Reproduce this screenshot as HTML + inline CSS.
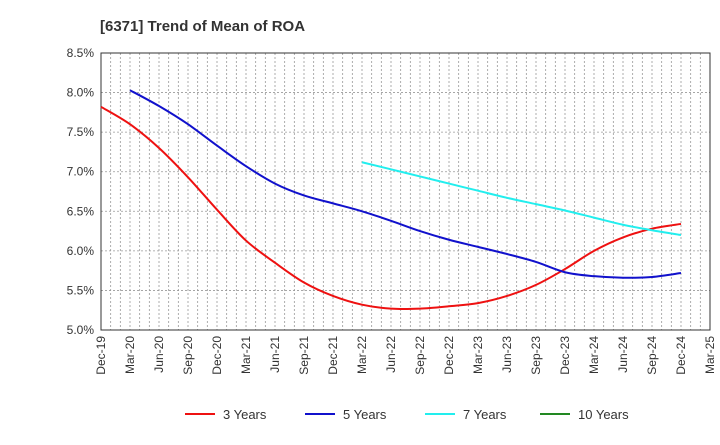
<!DOCTYPE html>
<html><head><meta charset="utf-8"><style>
body{margin:0;background:#fff;font-family:"Liberation Sans",Arial,sans-serif}
svg text{font-family:"Liberation Sans",Arial,sans-serif}
</style></head><body>
<svg id="c" width="720" height="440" xmlns="http://www.w3.org/2000/svg">
<text x="100" y="31" font-size="15" font-weight="bold" fill="#333">[6371]  Trend of Mean of ROA</text>
<g id="grid"></g><g id="axes"></g><g id="series"></g><g id="legend"></g>
</svg>
<script>
const xLabels=["Dec-19","Mar-20","Jun-20","Sep-20","Dec-20","Mar-21","Jun-21","Sep-21","Dec-21","Mar-22","Jun-22","Sep-22","Dec-22","Mar-23","Jun-23","Sep-23","Dec-23","Mar-24","Jun-24","Sep-24","Dec-24","Mar-25"];
const yTicks=[5.0,5.5,6.0,6.5,7.0,7.5,8.0,8.5];
const s3=[7.82,7.6,7.3,6.93,6.52,6.13,5.85,5.6,5.43,5.32,5.27,5.27,5.3,5.34,5.43,5.57,5.77,6.0,6.17,6.28,6.34];
const s5=[null,8.03,7.83,7.6,7.33,7.07,6.85,6.7,6.6,6.5,6.38,6.25,6.14,6.05,5.96,5.86,5.73,5.68,5.66,5.67,5.72];
const s7=[null,null,null,null,null,null,null,null,null,7.12,7.03,6.94,6.85,6.76,6.67,6.59,6.51,6.42,6.33,6.26,6.2];
const s10=[];
const names=["3 Years","5 Years","7 Years","10 Years"];
const colors=["#ee1111","#1111cc","#22eeee","#228822"];
const L=101,R=710,T=53,B=330;
const ns="http://www.w3.org/2000/svg";
const xs=i=>L+(R-L)*i/(xLabels.length-1);
const ys=v=>B-(v-5)/(3.5)*(B-T);
function mk(t,a,p){const e=document.createElementNS(ns,t);for(const k in a)e.setAttribute(k,a[k]);p.appendChild(e);return e;}
const g=document.getElementById('grid'),ax=document.getElementById('axes'),se=document.getElementById('series'),lg=document.getElementById('legend');
for(let m=1;m<(xLabels.length-1)*3;m++){const x=L+(R-L)*m/((xLabels.length-1)*3);
const l=mk('line',{x1:x,x2:x,y1:T,y2:B,stroke:'#999','stroke-dasharray':'2,2','stroke-width':0.8},g);
}
yTicks.forEach(v=>{const y=ys(v);
const l=mk('line',{x1:L,x2:R,y1:y,y2:y,stroke:'#999','stroke-dasharray':'2,2','stroke-width':0.8},g);

const t=mk('text',{x:L-7,y:y+4,'text-anchor':'end','font-size':12,fill:'#333'},ax);t.textContent=v.toFixed(1)+'%';
});
xLabels.forEach((s,i)=>{const x=xs(i);const t=mk('text',{x:x+4,y:B+6,'text-anchor':'end','font-size':12,fill:'#333',transform:`rotate(-90 ${x+4} ${B+6})`},ax);t.textContent=s;
});
const fr=mk('rect',{x:L,y:T,width:R-L,height:B-T,fill:'none',stroke:'#333','stroke-width':1},ax);

function path(arr){const p=[];arr.forEach((v,i)=>{if(v!=null)p.push([xs(i),ys(v)]);});if(p.length<2)return '';
let d=`M${p[0][0]},${p[0][1]}`;for(let i=0;i<p.length-1;i++){const p0=p[i-1]||p[i],p1=p[i],p2=p[i+1],p3=p[i+2]||p2;
d+=` C${p1[0]+(p2[0]-p0[0])/6},${p1[1]+(p2[1]-p0[1])/6} ${p2[0]-(p3[0]-p1[0])/6},${p2[1]-(p3[1]-p1[1])/6} ${p2[0]},${p2[1]}`;}return d;}
[s3,s5,s7,s10].forEach((s,k)=>{const d=path(s);if(!d)return;const e=mk('path',{d:d,fill:'none',stroke:colors[k],'stroke-width':2},se);
});
const lx=[185,305,425,540];
names.forEach((n,k)=>{const gg=mk('g',{},lg);
mk('line',{x1:lx[k],x2:lx[k]+30,y1:414,y2:414,stroke:colors[k],'stroke-width':2},gg);
const t=mk('text',{x:lx[k]+38,y:419,'font-size':13,fill:'#333'},gg);t.textContent=n;});
</script>
</body></html>
